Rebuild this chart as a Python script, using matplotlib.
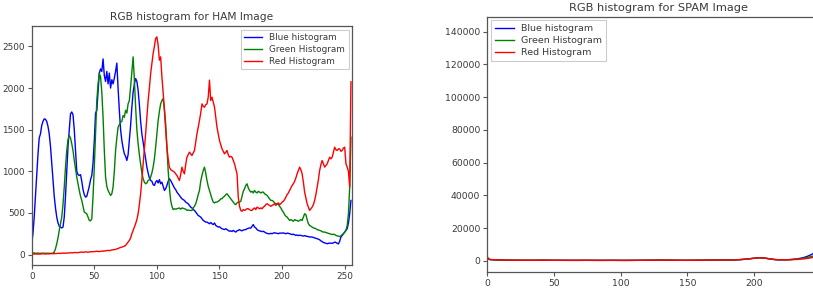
import matplotlib
matplotlib.use("Agg")
import matplotlib.pyplot as plt
import numpy as np

bins = list(range(256))

ham_blue = [
    130, 250, 450, 700, 950, 1200, 1400, 1450, 1550, 1600, 1630, 1625, 1600, 1540, 1450, 1300,
    1100, 900, 700, 560, 450, 380, 340, 330, 320, 330, 450, 700, 1000, 1300, 1500, 1690,
    1713, 1680, 1500, 1250, 1000, 960, 950, 960, 880, 780, 720, 690, 700, 760, 820, 900,
    950, 1100, 1370, 1700, 1730, 1950, 2180, 2230, 2200, 2350, 2150, 2080, 2200, 2050, 2180, 2000,
    2100, 2050, 2120, 2200, 2300, 2000, 1730, 1500, 1370, 1280, 1210, 1180, 1130, 1200, 1370, 1550,
    1770, 1950, 2050, 2115, 2080, 1975, 1800, 1600, 1450, 1350, 1250, 1150, 1050, 980, 920, 890,
    880, 840, 830, 870, 890, 860, 900, 850, 870, 820, 770, 790, 830, 880, 910, 890,
    860, 830, 800, 780, 750, 730, 710, 690, 670, 660, 650, 630, 620, 610, 590, 570,
    560, 540, 530, 510, 490, 470, 460, 450, 430, 410, 400, 390, 390, 380, 370, 385,
    370, 360, 380, 350, 340, 330, 335, 320, 310, 305, 300, 310, 300, 290, 280, 285,
    277, 290, 280, 270, 285, 290, 300, 290, 285, 295, 297, 300, 310, 315, 320, 317,
    340, 360, 330, 320, 300, 290, 285, 280, 275, 280, 270, 260, 255, 250, 250, 255,
    250, 258, 262, 257, 255, 250, 258, 257, 257, 260, 255, 250, 257, 255, 250, 245,
    240, 245, 237, 230, 235, 228, 232, 230, 225, 222, 228, 220, 220, 215, 210, 212,
    210, 205, 200, 195, 190, 185, 177, 165, 155, 145, 140, 136, 130, 135, 138, 136,
    136, 140, 150, 145, 135, 128, 160, 210, 230, 250, 270, 290, 310, 380, 490, 650,
]

ham_green = [
    15, 18, 20, 16, 15, 18, 14, 16, 15, 17, 16, 14, 15, 16, 15, 14,
    15, 18, 30, 70, 128, 200, 290, 370, 450, 600, 810, 1050, 1250, 1380, 1430, 1400,
    1330, 1250, 1130, 1030, 930, 850, 770, 700, 650, 580, 510, 500, 490, 450, 410, 405,
    430, 700, 1050, 1450, 1850, 2050, 2175, 2135, 1950, 1650, 1250, 930, 820, 770, 740, 710,
    730, 810, 1000, 1250, 1400, 1530, 1560, 1590, 1600, 1670, 1650, 1733, 1700, 1810, 1850, 2015,
    2200, 2375, 2100, 1773, 1500, 1330, 1200, 1090, 980, 910, 870, 850, 860, 890, 900, 930,
    980, 1050, 1150, 1290, 1450, 1610, 1720, 1810, 1850, 1875, 1750, 1570, 1300, 1010, 800, 650,
    580, 540, 550, 545, 550, 555, 560, 545, 560, 555, 550, 545, 530, 535, 530, 530,
    530, 560, 580, 610, 660, 720, 770, 880, 950, 1010, 1050, 980, 890, 820, 770, 720,
    670, 630, 620, 630, 630, 640, 650, 670, 670, 690, 700, 720, 730, 710, 690, 670,
    650, 630, 610, 600, 620, 630, 630, 640, 700, 760, 790, 830, 850, 800, 770, 750,
    760, 740, 770, 750, 740, 760, 750, 740, 750, 750, 730, 720, 710, 690, 670, 650,
    650, 640, 620, 610, 610, 600, 580, 560, 530, 510, 480, 460, 450, 430, 410, 420,
    410, 400, 420, 410, 410, 400, 410, 420, 410, 450, 490, 480, 420, 370, 350, 340,
    330, 320, 317, 310, 300, 295, 290, 285, 275, 270, 270, 265, 260, 255, 250, 245,
    240, 245, 240, 230, 225, 220, 217, 225, 240, 250, 270, 290, 350, 490, 810, 1410,
]

ham_red = [
    10, 8, 5, 6, 8, 5, 7, 6, 8, 10, 8, 7, 9, 10, 8, 10,
    12, 10, 11, 13, 12, 14, 15, 13, 16, 18, 15, 17, 19, 18, 20, 22,
    20, 21, 23, 25, 22, 24, 26, 28, 30, 27, 29, 32, 30, 28, 31, 33,
    35, 32, 38, 36, 40, 37, 35, 38, 42, 40, 45, 43, 48, 50, 47, 52,
    55, 58, 60, 62, 68, 72, 80, 85, 90, 95, 100, 110, 130, 150, 170, 200,
    250, 290, 330, 370, 420, 490, 600, 730, 900, 1090, 1270, 1450, 1650, 1850, 2000, 2175,
    2300, 2415, 2500, 2596, 2615, 2515, 2335, 2375, 2135, 1950, 1733, 1500, 1290, 1150, 1050, 1020,
    1010, 1000, 990, 970, 950, 920, 890, 960, 1050, 1000, 970, 1080, 1170, 1200, 1230, 1210,
    1190, 1220, 1250, 1350, 1450, 1530, 1610, 1700, 1810, 1780, 1770, 1800, 1810, 1890, 2095, 1850,
    1890, 1830, 1773, 1650, 1530, 1450, 1370, 1320, 1270, 1240, 1210, 1230, 1250, 1200, 1170, 1180,
    1170, 1130, 1090, 1030, 970, 690, 580, 530, 520, 540, 530, 540, 550, 550, 540, 530,
    530, 550, 560, 540, 570, 560, 550, 560, 550, 570, 580, 600, 610, 600, 590, 580,
    590, 600, 610, 590, 610, 620, 600, 610, 630, 640, 660, 690, 720, 740, 770, 800,
    830, 850, 880, 920, 970, 1010, 1050, 1020, 970, 870, 750, 680, 610, 570, 530, 550,
    570, 600, 650, 720, 810, 900, 1010, 1080, 1130, 1090, 1050, 1070, 1090, 1130, 1170, 1150,
    1170, 1230, 1290, 1260, 1250, 1270, 1270, 1240, 1250, 1280, 1290, 1090, 1050, 1000, 810, 2075,
]

spam_blue = [
    1500, 900, 700, 650, 600, 550, 500, 520, 480, 450, 430, 400, 380, 360, 350, 340,
    330, 320, 310, 300, 300, 290, 300, 280, 290, 280, 270, 280, 275, 270, 265, 270,
    260, 270, 265, 260, 280, 300, 320, 340, 360, 340, 320, 300, 310, 320, 300, 290,
    280, 270, 275, 280, 270, 265, 260, 255, 260, 250, 255, 250, 245, 250, 240, 245,
    240, 245, 240, 235, 240, 235, 230, 235, 230, 240, 250, 260, 270, 260, 250, 240,
    230, 235, 230, 225, 230, 225, 230, 240, 260, 280, 300, 280, 260, 250, 240, 235,
    230, 225, 220, 225, 220, 215, 220, 215, 210, 215, 220, 225, 230, 235, 240, 250,
    260, 270, 280, 290, 300, 310, 320, 330, 340, 350, 360, 370, 380, 390, 400, 410,
    400, 390, 380, 370, 360, 350, 340, 330, 320, 310, 300, 290, 280, 270, 260, 250,
    250, 245, 240, 245, 250, 255, 260, 255, 250, 245, 240, 235, 230, 235, 240, 245,
    250, 255, 260, 265, 270, 275, 280, 285, 290, 295, 300, 310, 320, 330, 340, 350,
    360, 370, 380, 390, 400, 420, 440, 460, 480, 500, 530, 560, 600, 650, 700, 760,
    830, 900, 980, 1060, 1150, 1250, 1350, 1450, 1550, 1650, 1730, 1780, 1800, 1790, 1750, 1680,
    1590, 1480, 1350, 1220, 1090, 960, 850, 760, 690, 640, 600, 580, 570, 560, 570, 580,
    600, 630, 670, 720, 780, 850, 930, 1020, 1120, 1240, 1380, 1540, 1720, 1930, 2170, 2440,
    2740, 3070, 3430, 3830, 4270, 4750, 5300, 5900, 6600, 7400, 8400, 9600, 11500, 15000, 25000, 142000,
]

spam_green = [
    1800, 1000, 750, 680, 620, 570, 530, 540, 500, 470, 440, 410, 390, 370, 355, 345,
    335, 325, 315, 305, 300, 295, 300, 285, 290, 285, 275, 280, 278, 272, 268, 270,
    265, 270, 268, 262, 280, 305, 325, 345, 362, 345, 325, 305, 312, 322, 305, 292,
    282, 272, 278, 282, 272, 268, 262, 258, 262, 252, 258, 252, 248, 252, 242, 248,
    242, 248, 242, 238, 242, 238, 232, 238, 232, 242, 252, 262, 272, 262, 252, 242,
    232, 238, 232, 228, 232, 228, 232, 242, 262, 282, 302, 282, 262, 252, 242, 238,
    232, 228, 222, 228, 222, 218, 222, 218, 212, 218, 222, 228, 232, 238, 242, 252,
    262, 272, 282, 292, 302, 312, 322, 332, 342, 352, 362, 372, 382, 392, 402, 412,
    402, 392, 382, 372, 362, 352, 342, 332, 322, 312, 302, 292, 282, 272, 262, 252,
    252, 248, 242, 248, 252, 258, 262, 258, 252, 248, 242, 238, 232, 238, 242, 248,
    252, 258, 262, 268, 272, 278, 282, 288, 292, 298, 302, 312, 322, 332, 342, 352,
    362, 372, 382, 392, 402, 422, 442, 462, 482, 502, 532, 562, 602, 652, 702, 762,
    832, 902, 982, 1062, 1152, 1252, 1352, 1452, 1552, 1652, 1732, 1782, 1802, 1792, 1752, 1682,
    1592, 1482, 1352, 1222, 1092, 962, 852, 762, 692, 642, 602, 582, 572, 562, 565, 570,
    580, 600, 630, 670, 720, 780, 840, 910, 990, 1080, 1180, 1290, 1410, 1540, 1680, 1830,
    2000, 2180, 2380, 2600, 2840, 3100, 3400, 3750, 4150, 4600, 5200, 6000, 7200, 9500, 17000, 140000,
]

spam_red = [
    2500, 1100, 800, 700, 650, 600, 560, 560, 520, 490, 460, 430, 400, 380, 360, 350,
    340, 330, 320, 310, 305, 300, 305, 290, 295, 290, 280, 285, 280, 275, 270, 272,
    268, 272, 270, 265, 285, 310, 330, 350, 365, 350, 330, 310, 315, 325, 310, 295,
    285, 275, 280, 285, 275, 270, 265, 260, 265, 255, 260, 255, 250, 255, 245, 250,
    245, 250, 245, 240, 245, 240, 235, 240, 235, 245, 255, 265, 275, 265, 255, 245,
    235, 240, 235, 230, 235, 230, 235, 245, 265, 285, 305, 285, 265, 255, 245, 240,
    235, 230, 225, 230, 225, 220, 225, 220, 215, 220, 225, 230, 235, 240, 245, 255,
    265, 275, 285, 295, 305, 315, 325, 335, 345, 355, 365, 375, 385, 395, 405, 415,
    405, 395, 385, 375, 365, 355, 345, 335, 325, 315, 305, 295, 285, 275, 265, 255,
    255, 250, 245, 250, 255, 260, 265, 260, 255, 250, 245, 240, 235, 240, 245, 250,
    255, 260, 265, 270, 275, 280, 285, 290, 295, 300, 305, 315, 325, 335, 345, 355,
    365, 375, 385, 395, 405, 425, 445, 465, 485, 505, 535, 565, 605, 655, 705, 765,
    835, 905, 985, 1065, 1155, 1255, 1355, 1455, 1555, 1655, 1735, 1785, 1805, 1795, 1755, 1685,
    1595, 1485, 1355, 1225, 1095, 965, 855, 765, 695, 645, 605, 585, 575, 565, 560, 560,
    565, 575, 590, 610, 635, 665, 700, 740, 790, 845, 905, 970, 1040, 1120, 1210, 1310,
    1420, 1540, 1680, 1840, 2020, 2220, 2450, 2720, 3050, 3450, 3950, 4600, 5600, 7500, 14000, 138000,
]

for s in (ham_blue, ham_green, ham_red, spam_blue, spam_green, spam_red):
    assert len(s) == 256, len(s)

plt.rcParams['font.family'] = ['DejaVu Sans']
TXT = '#3a3a3a'
SP = '#555555'

fig = plt.figure(figsize=(8.13, 3.0), dpi=100)
ax1 = fig.add_axes([31.7 / 813, 35 / 300, 320.5 / 813, 239 / 300])
ax2 = fig.add_axes([487.3 / 813, 28 / 300, 341.5 / 813, 255.3 / 300])


def style(ax, title, tfs, lfs):
    ax.set_xlim(0, 256)
    ax.set_title(title, fontsize=tfs, color=TXT, pad=4)
    ax.tick_params(labelsize=lfs, colors=SP, labelcolor=TXT, length=3, width=0.8, pad=2)
    for sp in ax.spines.values():
        sp.set_color(SP)
        sp.set_linewidth(0.9)


def legend(ax, loc, fs):
    leg = ax.legend(loc=loc, fontsize=fs, handlelength=2.0, borderpad=0.4,
                    labelspacing=0.32, framealpha=1, fancybox=False, borderaxespad=0.4)
    leg.get_frame().set_edgecolor('#cccccc')
    leg.get_frame().set_linewidth(0.8)
    for t in leg.get_texts():
        t.set_color(TXT)


ax1.plot(bins, ham_blue, color='#0000ff', lw=1.0, label='Blue histogram')
ax1.plot(bins, ham_green, color='#008000', lw=1.0, label='Green Histogram')
ax1.plot(bins, ham_red, color='#ff0000', lw=1.0, label='Red Histogram')
style(ax1, 'RGB histogram for HAM Image', 7.7, 6.4)
ax1.set_xticks([0, 50, 100, 150, 200, 250])
ax1.set_yticks([0, 500, 1000, 1500, 2000, 2500])
legend(ax1, 'upper right', 6.4)

ax2.plot(bins, spam_blue, color='#0000ff', lw=1.0, label='Blue histogram')
ax2.plot(bins, spam_green, color='#008000', lw=1.0, label='Green Histogram')
ax2.plot(bins, spam_red, color='#ff0000', lw=1.0, label='Red Histogram')
style(ax2, 'RGB histogram for SPAM Image', 8.2, 6.7)
ax2.set_xticks([0, 50, 100, 150, 200, 250])
ax2.set_yticks([0, 20000, 40000, 60000, 80000, 100000, 120000, 140000])
legend(ax2, 'upper left', 6.8)

fig.savefig('out.png', dpi=100)
